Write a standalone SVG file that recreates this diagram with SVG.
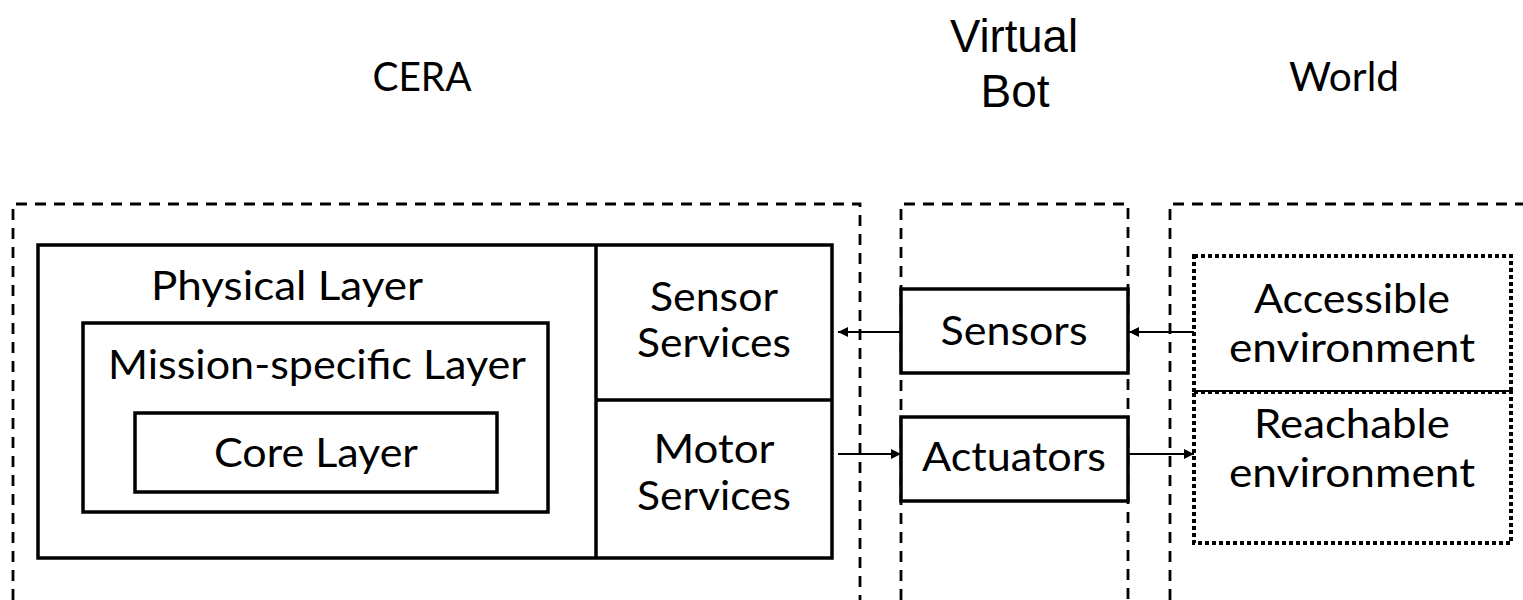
<svg xmlns="http://www.w3.org/2000/svg" width="1523" height="600" viewBox="0 0 1523 600">
<defs>
<style>
.dash{fill:none;stroke:#000;stroke-width:2.8;stroke-dasharray:11 8}
.box{fill:#fff;stroke:#000;stroke-width:3.5}
.solid{fill:none;stroke:#000;stroke-width:3.5}
.dot{fill:#fff;stroke:#000;stroke-width:4;stroke-dasharray:4 3}
.t{font-family:Lato,"Liberation Sans",sans-serif;font-size:41px;fill:#000;text-anchor:middle}
.a{font-family:"Liberation Sans",Arial,sans-serif;font-size:46px;fill:#000;text-anchor:middle}
.c{fill:none;stroke:#000;stroke-width:2}
</style>
<marker id="ah" viewBox="0 0 10 10" refX="10" refY="5" markerWidth="10" markerHeight="10" markerUnits="userSpaceOnUse" orient="auto">
<path d="M0,0 L10,5 L0,10 Z" fill="#000"/>
</marker>
</defs>
<rect width="1523" height="600" fill="#fff"/>
<g id="labels">
<text class="t" x="422" y="91" font-size="45" textLength="99" lengthAdjust="spacingAndGlyphs">CERA</text>
<text class="a" x="1014" y="52" textLength="128" lengthAdjust="spacingAndGlyphs">Virtual</text>
<text class="a" x="1015" y="107">Bot</text>
<text class="t" x="1344" y="91" font-size="45" textLength="110" lengthAdjust="spacingAndGlyphs">World</text>
</g>
<g id="regions">
<path class="dash" d="M13,600 V204 H860 V600"/>
<path class="dash" d="M901,600 V204 H1128 V600"/>
<path class="dash" d="M1170,600 V204 H1523"/>
</g>
<g id="cera">
<rect class="box" x="38" y="245" width="794" height="313"/>
<path class="solid" d="M596,245 V558 M596,400 H832"/>
<text class="t" x="287" y="300" textLength="272" lengthAdjust="spacingAndGlyphs">Physical Layer</text>
</g>
<g id="mission">
<rect class="box" x="83" y="323" width="465" height="189"/>
<text class="t" x="317" y="379" textLength="418" lengthAdjust="spacingAndGlyphs">Mission-specific Layer</text>
</g>
<g id="core">
<rect class="box" x="135" y="413" width="362" height="79"/>
<text class="t" x="316" y="467" textLength="204" lengthAdjust="spacingAndGlyphs">Core Layer</text>
</g>
<g id="sensor-services">
<text class="t" x="714" y="311" textLength="128" lengthAdjust="spacingAndGlyphs">Sensor</text>
<text class="t" x="714" y="357" textLength="154" lengthAdjust="spacingAndGlyphs">Services</text>
</g>
<g id="motor-services">
<text class="t" x="714" y="463" textLength="121" lengthAdjust="spacingAndGlyphs">Motor</text>
<text class="t" x="714" y="510" textLength="154" lengthAdjust="spacingAndGlyphs">Services</text>
</g>
<g id="sensors">
<rect class="box" x="901" y="289" width="227" height="84"/>
<text class="t" x="1014" y="345" textLength="147" lengthAdjust="spacingAndGlyphs">Sensors</text>
</g>
<g id="actuators">
<rect class="box" x="901" y="417" width="227" height="84"/>
<text class="t" x="1014" y="471" textLength="184" lengthAdjust="spacingAndGlyphs">Actuators</text>
</g>
<g id="accessible">
<rect class="dot" x="1194" y="256" width="317" height="136"/>
<text class="t" x="1352" y="313" textLength="196" lengthAdjust="spacingAndGlyphs">Accessible</text>
<text class="t" x="1352" y="362" textLength="246" lengthAdjust="spacingAndGlyphs">environment</text>
</g>
<g id="reachable">
<rect class="dot" x="1194" y="392" width="317" height="151"/>
<text class="t" x="1352" y="438" textLength="196" lengthAdjust="spacingAndGlyphs">Reachable</text>
<text class="t" x="1352" y="487" textLength="246" lengthAdjust="spacingAndGlyphs">environment</text>
</g>
<g id="connectors">
<line class="c" x1="901" y1="332" x2="838" y2="332" marker-end="url(#ah)"/>
<line class="c" x1="1194" y1="332" x2="1129" y2="332" marker-end="url(#ah)"/>
<line class="c" x1="838" y1="454" x2="901" y2="454" marker-end="url(#ah)"/>
<line class="c" x1="1128" y1="454" x2="1194" y2="454" marker-end="url(#ah)"/>
</g>
</svg>
